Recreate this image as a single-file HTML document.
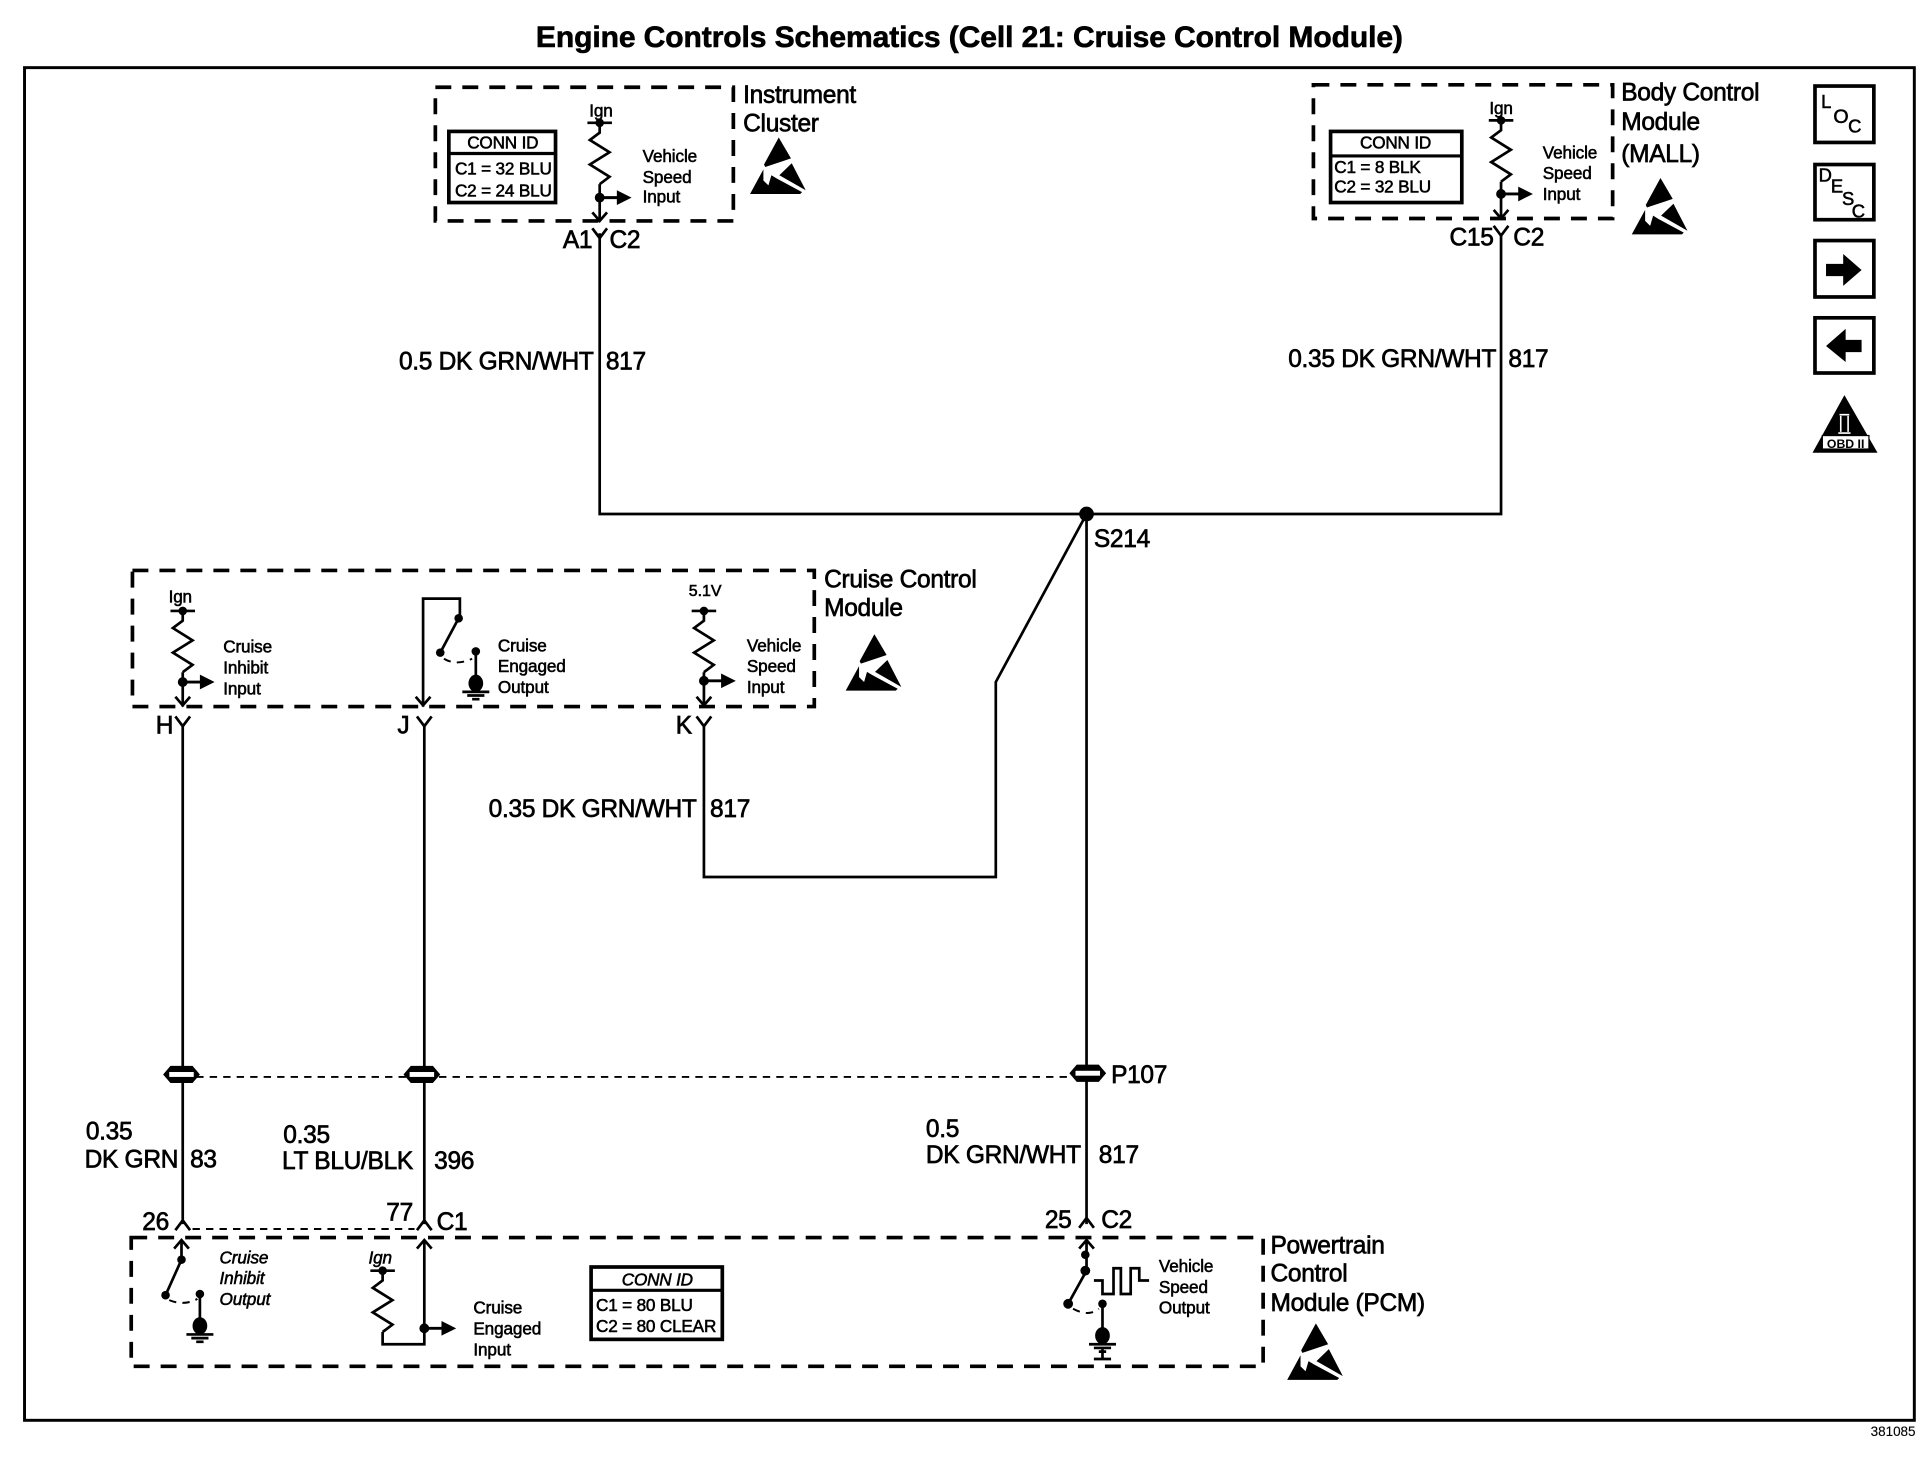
<!DOCTYPE html>
<html><head><meta charset="utf-8"><style>
html,body{margin:0;padding:0;background:#fff}
svg{display:block}
text{font-family:"Liberation Sans",sans-serif;fill:#000;stroke:#000;stroke-width:.45}
.l{font-size:20px;letter-spacing:-.25px;stroke-width:.55}.s{font-size:14px;letter-spacing:-.1px}.c{font-size:14px;letter-spacing:-.15px}
.i{font-style:italic}
.w{fill:none;stroke:#000;stroke-width:2.2}
.d{fill:none;stroke:#000;stroke-width:3;stroke-dasharray:13 9}
.t{fill:none;stroke:#000;stroke-width:1.6;stroke-dasharray:6 5}
.b{fill:#fff;stroke:#000;stroke-width:3}
.m{text-anchor:middle}.e{text-anchor:end}
</style></head><body>
<svg width="1918" height="1472" viewBox="0 0 1564 1200" xmlns="http://www.w3.org/2000/svg">
<defs>
<g id="esd"><path d="M24 0L34 17L28 19L13 24L12 22Z"/><path d="M0.6 46L11.5 26V35L15.6 39L18 30.7L22.4 33.4L43 44.5L41.5 46Z"/><path d="M34.6 21L46 43L24.5 30.7Z"/></g>
<g id="res"><path class="w" d="M-10 0H10M0 0V8L-8 14L8 24L-8 34L8 44L0 50"/><circle r="3.5"/></g>
<g id="dn"><path class="w" d="M-6 -7L0 0L6 -7"/></g>
<g id="Yd"><path class="w" d="M-6 -8L0 0L6 -8"/></g>
<g id="Yu"><path class="w" d="M-6 8L0 0L6 8"/></g>
<g id="ar"><path d="M0 -1.2H14V-6L26 0L14 6V1.2H0Z"/><circle r="4"/></g>
<g id="gnd"><path class="w" d="M0 0V24M-11 33H11M-7 36H7M-3 39H3"/><circle r="3.5"/><ellipse cy="26" rx="6" ry="7"/></g>
<g id="sp"><path d="M-15 0L-9 -7H9L15 0L9 7H-9Z"/><rect x="-10" y="-2" width="20" height="4" fill="#fff"/></g>
</defs>
<rect width="1564" height="1200" fill="#fff"/>

<text x="437" y="38" font-weight="bold" font-size="24.5" textLength="707" style="stroke-width:.5">Engine Controls Schematics (Cell 21: Cruise Control Module)</text>
<rect x="20" y="55" width="1541" height="1103" fill="none" stroke="#000" stroke-width="2.4"/>
<text x="1562" y="1171" class="e" font-size="11" style="stroke-width:.1">381085</text>

<!-- Instrument Cluster -->
<rect class="d" x="355" y="71" width="243" height="109"/>
<rect class="b" x="366" y="107" width="87" height="58"/><path class="w" style="stroke-width:2.6" d="M366 125H453"/>
<text x="410" y="121" class="c m">CONN ID</text><text x="371" y="142" class="c">C1 = 32 BLU</text><text x="371" y="160" class="c">C2 = 24 BLU</text>
<text x="490" y="95" class="c m">Ign</text>
<use href="#res" x="489" y="100"/><path class="w" d="M489 150V180"/><use href="#ar" x="489" y="161"/><use href="#dn" x="489" y="180"/>
<text x="524" y="132" class="s">Vehicle</text><text x="524" y="149" class="s">Speed</text><text x="524" y="165" class="s">Input</text>
<text x="606" y="84" class="l">Instrument</text><text x="606" y="107" class="l">Cluster</text>
<use href="#esd" x="611" y="112"/>
<text x="459" y="202" class="l">A1</text><text x="497" y="202" class="l">C2</text>
<use href="#Yd" x="489" y="194"/>
<path class="w" d="M489 190V419H1224V190"/>

<!-- Body Control Module -->
<rect class="d" x="1071" y="69" width="244" height="109"/>
<rect class="b" x="1085" y="107" width="107" height="58"/><path class="w" style="stroke-width:2.6" d="M1085 127H1192"/>
<text x="1138" y="121" class="c m">CONN ID</text><text x="1088" y="141" class="c">C1 = 8 BLK</text><text x="1088" y="157" class="c">C2 = 32 BLU</text>
<text x="1224" y="93" class="c m">Ign</text>
<use href="#res" x="1224" y="98"/><path class="w" d="M1224 148V178"/><use href="#ar" x="1224" y="158"/><use href="#dn" x="1224" y="178"/>
<text x="1258" y="129" class="s">Vehicle</text><text x="1258" y="146" class="s">Speed</text><text x="1258" y="163" class="s">Input</text>
<text x="1322" y="82" class="l">Body Control</text><text x="1322" y="106" class="l">Module</text><text x="1322" y="132" class="l">(MALL)</text>
<use href="#esd" x="1330" y="145"/>
<text x="1182" y="200" class="l">C15</text><text x="1234" y="200" class="l">C2</text>
<use href="#Yd" x="1224" y="192"/>

<text x="484" y="301" class="l e">0.5 DK GRN/WHT</text><text x="494" y="301" class="l">817</text>
<text x="1220" y="299" class="l e">0.35 DK GRN/WHT</text><text x="1230" y="299" class="l">817</text>
<text x="568" y="666" class="l e">0.35 DK GRN/WHT</text><text x="579" y="666" class="l">817</text>

<circle cx="886" cy="419" r="6"/>
<text x="892" y="446" class="l">S214</text>
<path class="w" d="M886 419V998M886 419L812 556V715H574V592"/>

<!-- Cruise Control Module -->
<rect class="d" x="108" y="465" width="556" height="111"/>
<text x="147" y="491" class="c m">Ign</text>
<use href="#res" x="149" y="498"/><path class="w" d="M149 548V576"/><use href="#ar" x="149" y="556"/><use href="#dn" x="149" y="575"/>
<text x="182" y="532" class="s">Cruise</text><text x="182" y="549" class="s">Inhibit</text><text x="182" y="566" class="s">Input</text>
<path class="w" d="M375 504V488H345V576"/><use href="#dn" x="345" y="575"/>
<path class="w" d="M374 504L359 532"/><circle cx="374" cy="504" r="3.5"/><circle cx="359" cy="532" r="3.5"/>
<path class="t" d="M362 537Q372 543 385 537"/>
<use href="#gnd" x="388" y="531"/>
<text x="406" y="531" class="s">Cruise</text><text x="406" y="548" class="s">Engaged</text><text x="406" y="565" class="s">Output</text>
<text x="575" y="486" font-size="13" class="m">5.1V</text>
<use href="#res" x="574" y="498"/><path class="w" d="M574 548V576"/><use href="#ar" x="574" y="555"/><use href="#dn" x="574" y="575"/>
<text x="609" y="531" class="s">Vehicle</text><text x="609" y="548" class="s">Speed</text><text x="609" y="565" class="s">Input</text>
<text x="672" y="479" class="l">Cruise Control</text><text x="672" y="502" class="l">Module</text>
<use href="#esd" x="689" y="517"/>
<text x="127" y="598" class="l">H</text><text x="324" y="598" class="l">J</text><text x="551" y="598" class="l">K</text>
<use href="#Yd" x="149" y="592"/><use href="#Yd" x="346" y="592"/><use href="#Yd" x="574" y="592"/>
<path class="w" d="M149 590V998M346 590V998"/>

<!-- P107 -->
<path class="t" d="M160 878H875"/>
<use href="#sp" x="148" y="876"/><use href="#sp" x="344" y="876"/><use href="#sp" x="887" y="875"/>
<text x="906" y="883" class="l">P107</text>

<text x="70" y="929" class="l">0.35</text><text x="69" y="952" class="l">DK GRN</text><text x="155" y="952" class="l">83</text>
<text x="231" y="932" class="l">0.35</text><text x="230" y="953" class="l">LT BLU/BLK</text><text x="354" y="953" class="l">396</text>
<text x="755" y="927" class="l">0.5</text><text x="755" y="948" class="l">DK GRN/WHT</text><text x="896" y="948" class="l">817</text>

<text x="116" y="1003" class="l">26</text><text x="315" y="995" class="l">77</text><text x="356" y="1003" class="l">C1</text>
<text x="852" y="1001" class="l">25</text><text x="898" y="1001" class="l">C2</text>
<use href="#Yu" x="149" y="995"/><use href="#Yu" x="346" y="995"/><use href="#Yu" x="886" y="993"/>
<path class="t" d="M157 1002H338"/>

<!-- PCM -->
<rect class="d" x="107" y="1009" width="923" height="105"/>
<path class="w" d="M148 1011V1027L135 1056"/><path class="w" d="M142 1018L148 1011L154 1018"/><circle cx="148" cy="1027" r="3.5"/><circle cx="135" cy="1056" r="3.5"/>
<path class="t" d="M138 1060Q150 1065 161 1059"/><use href="#gnd" x="163" y="1055"/>
<text x="179" y="1030" class="s i">Cruise</text><text x="179" y="1047" class="s i">Inhibit</text><text x="179" y="1064" class="s i">Output</text>
<text x="310" y="1030" class="c m i">Ign</text>
<use href="#res" x="312" y="1036"/><path class="w" d="M312 1086V1096H346V1011M340 1018L346 1011L352 1018"/>
<use href="#ar" x="346" y="1083"/>
<text x="386" y="1071" class="s">Cruise</text><text x="386" y="1088" class="s">Engaged</text><text x="386" y="1105" class="s">Input</text>
<rect class="b" x="482" y="1033" width="107" height="59"/><path class="w" style="stroke-width:2.6" d="M482 1052H589"/>
<text x="536" y="1048" class="c m i">CONN ID</text><text x="486" y="1069" class="c">C1 = 80 BLU</text><text x="486" y="1086" class="c">C2 = 80 CLEAR</text>
<path class="w" d="M886 1011V1036L871 1063M880 1018L886 1011L892 1018"/><circle cx="885" cy="1023" r="3.5"/><circle cx="885" cy="1036" r="4"/><circle cx="871" cy="1063" r="4"/>
<path class="w" d="M892 1044H899V1055H908V1034H914V1055H922V1034H929V1044H937"/>
<path class="t" d="M875 1067Q888 1074 896 1067"/>
<use href="#gnd" x="899" y="1063"/>
<path class="w" d="M899 1100V1107M892 1108H906"/>
<text x="945" y="1037" class="s">Vehicle</text><text x="945" y="1054" class="s">Speed</text><text x="945" y="1071" class="s">Output</text>
<text x="1036" y="1022" class="l">Powertrain</text><text x="1036" y="1045" class="l">Control</text><text x="1036" y="1069" class="l">Module (PCM)</text>
<use href="#esd" x="1049" y="1079"/>

<!-- Sidebar icons -->
<rect class="b" x="1480" y="70" width="48" height="46"/>
<text x="1485" y="88" font-size="15">L</text><text x="1495" y="100" font-size="16">O</text><text x="1507" y="108" font-size="15">C</text>
<rect class="b" x="1480" y="134" width="48" height="45"/>
<text x="1483" y="148" font-size="15">D</text><text x="1493" y="157" font-size="15">E</text><text x="1502" y="167" font-size="15">S</text><text x="1510" y="177" font-size="15">C</text>
<rect class="b" x="1480" y="196" width="48" height="46"/>
<path d="M1489 215H1503V207L1518 220L1503 233V225H1489Z"/>
<rect class="b" x="1480" y="259" width="48" height="45"/>
<path d="M1518 277H1505V268L1489 282L1505 295V287H1518Z"/>
<path d="M1504 322L1531 369H1478Z"/>
<path d="M1500 338H1508M1501 339V352M1507 339V352M1499 353H1509" fill="none" stroke="#fff" stroke-width="1.3"/>
<rect x="1486" y="355" width="38" height="11" fill="#fff" stroke="#000"/>
<text x="1505" y="365" font-size="10" class="m" font-weight="bold" style="stroke-width:0">OBD II</text>
</svg>
</body></html>
